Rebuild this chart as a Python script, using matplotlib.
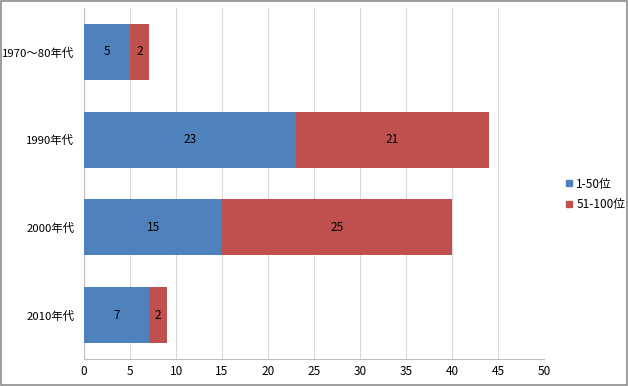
import matplotlib
matplotlib.use("Agg")
import matplotlib.pyplot as plt
from matplotlib.patches import Rectangle

plt.rcParams['font.family'] = ['Noto Sans CJK JP', 'DejaVu Sans']

# data
categories = ["1970～80年代", "1990年代", "2000年代", "2010年代"]
top50 = [5, 23, 15, 7]
top100 = [2, 21, 25, 2]
series_names = ["1-50位", "51-100位"]
BLUE = "#4F81BD"
RED = "#C0504D"

fig = plt.figure(figsize=(6.28, 3.86), dpi=100)
fig.patches.append(Rectangle((0.0008, 0.0013), 0.9984, 0.9974, transform=fig.transFigure,
                             fill=False, edgecolor="#8C8C8C", linewidth=1.2))
ax = fig.add_axes([0.134, 0.070, 0.732, 0.909])

y = list(range(len(categories)))
b1 = ax.barh(y, top50, height=0.64, color=BLUE, label=series_names[0], zorder=3)
b2 = ax.barh(y, top100, left=top50, height=0.64, color=RED, label=series_names[1], zorder=3)
for bars in (b1, b2):
    ax.bar_label(bars, label_type="center", fontsize=8.5, color="#000000")

ax.set_ylim(len(categories) - 0.5, -0.5)
ax.set_xlim(0, 50)
ax.set_xticks(range(0, 51, 5))
ax.set_yticks(y)
ax.set_yticklabels(categories)
ax.tick_params(axis="both", labelsize=8.5, length=0, colors="#000000")
ax.tick_params(axis="x", pad=4)
ax.tick_params(axis="y", pad=7, labelsize=8.2)
ax.grid(axis="x", color="#D9D9D9", linewidth=0.8, zorder=0)
for s in ("top", "right"):
    ax.spines[s].set_visible(False)
for s in ("left", "bottom"):
    ax.spines[s].set_color("#BFBFBF")
    ax.spines[s].set_linewidth(0.8)

handles = [plt.Line2D([], [], marker="s", linestyle="", color=c, markersize=5) for c in (BLUE, RED)]
fig.legend(handles, series_names, loc="center left", bbox_to_anchor=(0.88, 0.497),
           frameon=False, fontsize=8.5, handletextpad=0.1, labelspacing=0.6, handlelength=1)

fig.savefig("out.png", dpi=100)
